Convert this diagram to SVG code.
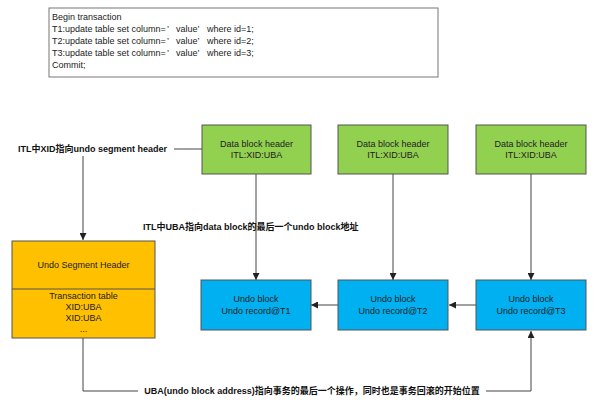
<svg xmlns="http://www.w3.org/2000/svg" width="600" height="400" viewBox="0 0 600 400">
<style>
text{font-family:"Liberation Sans","Noto Sans CJK SC",sans-serif;font-size:9px;fill:#222}
.c{text-anchor:middle}
.b{font-weight:bold;fill:#111}
.ln{stroke:#444;stroke-width:1;fill:none}
.g{fill:#92D050;stroke:#555;stroke-width:1}
.bl{fill:#00B0F0;stroke:#555;stroke-width:1}
.o{fill:#FFC000;stroke:#555;stroke-width:1}
</style>
<defs>
<marker id="ah" viewBox="0 0 10 10" refX="10" refY="5" markerWidth="7" markerHeight="7" orient="auto" markerUnits="userSpaceOnUse">
<path d="M0,0 L10,5 L0,10 z" fill="#222"/>
</marker>
</defs>
<rect width="600" height="400" fill="#fff"/>
<g id="sql">
<rect x="49" y="8" width="389" height="69" fill="#fff" stroke="#777"/>
<text x="52" y="20">Begin transaction</text>
<text x="52" y="32">T1:update table set column=<tspan x="167">’</tspan><tspan x="176">value’</tspan><tspan x="207">where id=1;</tspan></text>
<text x="52" y="44">T2:update table set column=<tspan x="167">’</tspan><tspan x="176">value’</tspan><tspan x="207">where id=2;</tspan></text>
<text x="52" y="56">T3:update table set column=<tspan x="167">’</tspan><tspan x="176">value’</tspan><tspan x="207">where id=3;</tspan></text>
<text x="52" y="68">Commit;</text>
</g>
<g id="connectors">
<line class="ln" x1="174" y1="149" x2="202" y2="149"/>
<line class="ln" x1="83" y1="156" x2="83" y2="240" marker-end="url(#ah)"/>
<line class="ln" x1="256" y1="174" x2="256" y2="280" marker-end="url(#ah)"/>
<line class="ln" x1="393" y1="174" x2="393" y2="280" marker-end="url(#ah)"/>
<line class="ln" x1="531" y1="174" x2="531" y2="280" marker-end="url(#ah)"/>
<line class="ln" x1="338" y1="305" x2="311" y2="305" marker-end="url(#ah)"/>
<line class="ln" x1="476" y1="305" x2="449" y2="305" marker-end="url(#ah)"/>
<polyline class="ln" points="83,338 83,391 138,391"/>
<polyline class="ln" points="486,391 531,391 531,331" marker-end="url(#ah)"/>
</g>
<g id="label-xid"><text class="b" x="18" y="152">ITL中XID指向undo segment header</text></g>
<g id="label-uba"><text class="b" x="143" y="230">ITL中UBA指向data block的最后一个undo block地址</text></g>
<g id="label-bottom"><text class="b c" x="312" y="394">UBA(undo block address)指向事务的最后一个操作，同时也是事务回滚的开始位置</text></g>
<g id="dbh1"><rect class="g" x="202" y="125" width="109" height="49"/><text class="c" x="256.5" y="147">Data block header</text><text class="c" x="256.5" y="158">ITL:XID:UBA</text></g>
<g id="dbh2"><rect class="g" x="338" y="125" width="110" height="49"/><text class="c" x="393" y="147">Data block header</text><text class="c" x="393" y="158">ITL:XID:UBA</text></g>
<g id="dbh3"><rect class="g" x="476" y="125" width="110" height="49"/><text class="c" x="531" y="147">Data block header</text><text class="c" x="531" y="158">ITL:XID:UBA</text></g>
<g id="ub1"><rect class="bl" x="201" y="280" width="110" height="50"/><text class="c" x="256" y="302">Undo block</text><text class="c" x="256" y="314">Undo record@T1</text></g>
<g id="ub2"><rect class="bl" x="338" y="280" width="110" height="50"/><text class="c" x="393" y="302">Undo block</text><text class="c" x="393" y="314">Undo record@T2</text></g>
<g id="ub3"><rect class="bl" x="476" y="280" width="110" height="50"/><text class="c" x="531" y="302">Undo block</text><text class="c" x="531" y="314">Undo record@T3</text></g>
<g id="ush">
<rect class="o" x="12" y="241" width="143" height="97"/>
<line x1="12" y1="289" x2="155" y2="289" stroke="#555"/>
<text class="c" x="83.5" y="268">Undo Segment Header</text>
<text class="c" x="83.5" y="299">Transaction table</text>
<text class="c" x="83.5" y="310">XID:UBA</text>
<text class="c" x="83.5" y="321">XID:UBA</text>
<text class="c" x="83.5" y="332">...</text>
</g>
</svg>
